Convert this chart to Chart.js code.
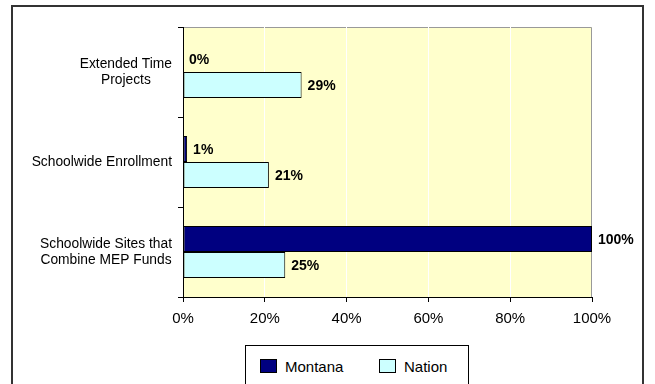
<!DOCTYPE html>
<html lang="en"><head>
<meta charset="UTF-8">
<title>Montana vs Nation</title>
<script src="https://cdn.jsdelivr.net/npm/chart.js@4.4.1/dist/chart.umd.min.js"></script>
<style>
	body { margin:0; background:#FFFFFF; overflow:hidden; font-family:"Liberation Sans", Arial, sans-serif; }
	#wrap { position:relative; width:655px; height:384px; }
	#frame { position:absolute; left:11px; top:5px; width:629px; height:400px; border:2px solid #333333; }
	#chart { position:absolute; left:0; top:0; }
	#legend { position:absolute; left:245px; top:345px; width:222px; height:60px; border:1px solid #000000; background:#FFFFFF; }
	.item { position:absolute; top:12px; font-size:15px; color:#000; line-height:17px; }
	.sw { display:inline-block; width:15px; height:12px; border:1px solid #000; vertical-align:-1px; margin-right:8px; }
</style>
</head>
<body>
<div id="wrap">
	<div id="frame"></div>
	<canvas id="chart" width="655" height="384"></canvas>
	<div id="legend"></div>
</div>
<script>
	// data
	const categories = [
		['Extended Time', 'Projects'],
		['Schoolwide Enrollment'],
		['Schoolwide Sites that', 'Combine MEP Funds']
	];
	const montana = [0, 1, 100];
	const nation = [29, 21, 25];
	const seriesNames = ['Montana', 'Nation'];
	const seriesColors = ['#000080', '#CCFFFF'];
	const xTicks = [0, 20, 40, 60, 80, 100];

	const FONT = '"Liberation Sans", Arial, sans-serif';

	// plot background + frame, category labels, value labels
	const decor = {
		id: 'decor',
		beforeDraw(chart) {
			const a = chart.chartArea, c = chart.ctx;
			c.save();
			c.fillStyle = '#FFFFCC';
			c.fillRect(a.left, a.top, a.right - a.left, a.bottom - a.top);
			c.strokeStyle = '#999999';
			c.lineWidth = 1;
			c.beginPath();
			c.moveTo(a.left, a.top + 0.5);
			c.lineTo(a.right - 0.5, a.top + 0.5);
			c.lineTo(a.right - 0.5, a.bottom);
			c.stroke();
			c.restore();
		},
		afterDraw(chart) {
			const c = chart.ctx;
			const y = chart.scales.y;
			c.save();
			c.fillStyle = '#000';
			c.font = '13.8px ' + FONT;
			c.textAlign = 'center';
			c.textBaseline = 'middle';
			const right = 172, lh = 16;
			categories.forEach((lines, i) => {
				let w = 0;
				lines.forEach(l => { w = Math.max(w, c.measureText(l).width); });
				const cx = right - w / 2;
				const cy = y.getPixelForTick(i);
				lines.forEach((l, k) => {
					c.fillText(l, cx, cy + (k - (lines.length - 1) / 2) * lh);
				});
			});
			c.font = 'bold 14px ' + FONT;
			c.textAlign = 'left';
			chart.data.datasets.forEach((ds, di) => {
				chart.getDatasetMeta(di).data.forEach((el, i) => {
					c.fillText(ds.data[i] + '%', el.x + 6, el.y + 1);
				});
			});
			c.restore();
		}
	};

	new Chart(document.getElementById('chart'), {
		type: 'bar',
		data: {
			labels: categories.map(l => l.join(' ')),
			datasets: [
				{ label: seriesNames[0], data: montana, backgroundColor: seriesColors[0] },
				{ label: seriesNames[1], data: nation, backgroundColor: seriesColors[1] }
			]
		},
		options: {
			indexAxis: 'y',
			responsive: false,
			animation: false,
			events: [],
			layout: { padding: { top: 27, right: 63, left: 0, bottom: 0 } },
			datasets: {
				bar: {
					categoryPercentage: 0.578,
					barPercentage: 1,
					borderColor: '#000000',
					borderWidth: 1,
					borderSkipped: false
				}
			},
			scales: {
				x: {
					min: 0, max: 100,
					afterBuildTicks(s) { s.ticks = xTicks.map(v => ({ value: v })); },
					afterFit(s) { s.height = 87; },
					grid: {
						color: ctx => (ctx.tick && ctx.tick.value > 0 && ctx.tick.value < 100) ? '#FFFFFF' : 'rgba(0,0,0,0)',
						tickColor: '#000000',
						tickLength: 5
					},
					border: { color: '#000000', width: 1 },
					ticks: {
						color: '#000',
						padding: 8,
						maxRotation: 0,
						font: { family: FONT, size: 15 },
						callback: v => v + '%'
					}
				},
				y: {
					afterFit(s) { s.width = 183; },
					grid: {
						drawOnChartArea: false,
						tickColor: '#000000',
						tickLength: 5
					},
					border: { color: '#000000', width: 1 },
					ticks: { color: 'rgba(0,0,0,0)', font: { family: FONT, size: 13 } }
				}
			},
			plugins: {
				legend: { display: false },
				tooltip: { enabled: false }
			}
		},
		plugins: [decor]
	});

	// legend box
	const legend = document.getElementById('legend');
	const legendX = [14, 133];
	seriesNames.forEach((n, i) => {
		const d = document.createElement('div');
		d.className = 'item';
		d.style.left = legendX[i] + 'px';
		d.innerHTML = '<span class="sw" style="background:' + seriesColors[i] + '"></span>' + n;
		legend.appendChild(d);
	});
</script>
</body></html>
